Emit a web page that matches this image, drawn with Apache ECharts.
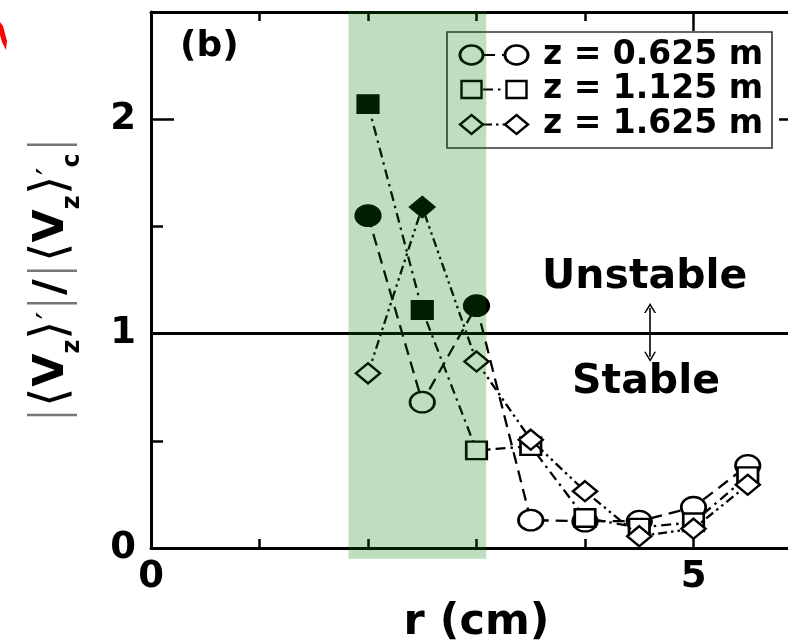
<!DOCTYPE html>
<html><head><meta charset="utf-8">
<script src="https://cdn.jsdelivr.net/npm/echarts@6/dist/echarts.min.js"></script>
<style>html,body{margin:0;padding:0;background:#fff}#c{width:788px;height:640px}</style>
</head><body><div id="c"></div>
<script>
// ---- data ----
const rValues = [2, 2.5, 3, 3.5, 4, 4.5, 5, 5.5];
const ratioZ0625 = [1.55, 0.68, 1.13, 0.13, 0.125, 0.125, 0.19, 0.385];
const ratioZ1125 = [2.07, 1.11, 0.455, 0.475, 0.14, 0.095, 0.12, 0.335];
const ratioZ1625 = [0.815, 1.59, 0.87, 0.505, 0.265, 0.055, 0.09, 0.295];
const filledZ0625 = [true, false, true, false, false, false, false, false];
const filledZ1125 = [true, true, false, false, false, false, false, false];
const filledZ1625 = [false, true, false, false, false, false, false, false];
const seriesNames = ['z = 0.625 m', 'z = 1.125 m', 'z = 1.625 m'];
const xTickLabels = [0, 5];
const yTickLabels = [0, 1, 2];
const unstableBandR = [1.82, 3.09];
const unstableBandY = [-0.05, 2.505];
const thresholdValue = 1;
const arrowR = 4.6;
const arrowY = [1.119, 0.892];
const panelLabel = '(b)';
const unstableText = 'Unstable';
const stableText = 'Stable';
const xName = 'r (cm)';

// ---- styles ----
const FONT = 'DejaVu Sans';
const ELLIPSE = 'path://M0,10 A10,10 0 1,1 20,10 A10,10 0 1,1 0,10 Z';
const CHEVRON = 'path://M0,10 L6,0 L12,10 L10.4,10 L6,2.8 L1.6,10 Z';
const dashes = [[12, 7], [10, 5, 2.5, 5], [9, 4, 2.5, 4, 2.5, 4]];
const symbols = [ELLIPSE, 'rect', 'diamond'];
const symSizes = [[24.5, 20.5], [20.5, 17.5], [24, 20]];

function buildData(vals, filled) {
  return rValues.map((r, i) => filled[i]
    ? { value: [r, vals[i]], itemStyle: { color: '#000' } }
    : { value: [r, vals[i]] });
}

const tickFont = { fontFamily: FONT, fontWeight: 'bold', fontSize: 37, color: '#000' };

function xAx(pos, interval, len, showLine, labels) {
  return {
    type: 'value', position: pos, min: 0, max: 6, interval: interval,
    axisLine: { show: showLine, onZero: false, lineStyle: { color: '#000', width: 3 } },
    axisTick: { show: true, inside: true, length: len, lineStyle: { color: '#000', width: 2.5 } },
    axisLabel: labels ? Object.assign({ margin: 11, formatter: v => xTickLabels.includes(v) ? String(v) : '' }, tickFont) : { show: false },
    splitLine: { show: false }
  };
}
function yAx(pos, interval, len, showLine, labels) {
  return {
    type: 'value', position: pos, min: 0, max: 2.5, interval: interval,
    axisLine: { show: showLine, onZero: false, lineStyle: { color: '#000', width: 3 } },
    axisTick: { show: true, inside: true, length: len, lineStyle: { color: '#000', width: 2.5 } },
    axisLabel: labels ? Object.assign({ margin: 15, formatter: v => yTickLabels.includes(v) ? String(v) : '' }, tickFont) : { show: false },
    splitLine: { show: false }
  };
}

const xAxes = [xAx('bottom', 1, 9, true, true), xAx('bottom', 5, 19, false, false), xAx('top', 1, 9, true, false), xAx('top', 5, 19, false, false)];
xAxes[0].name = xName;
xAxes[0].nameLocation = 'middle';
xAxes[0].nameGap = 48;
xAxes[0].nameTextStyle = { fontFamily: FONT, fontWeight: 'bold', fontSize: 43, color: '#000' };

const yAxes = [yAx('left', 0.5, 12, true, false), yAx('left', 1, 23, false, true), yAx('right', 0.5, 12, true, false), yAx('right', 1, 23, false, false)];
yAxes[1].name = '{bar||}{br|\u27E8}{v|V}{sub|z}{br|\u27E9}{pr|\u2032}{bar||}{v|/}{bar||}{br|\u27E8}{v|V}{sub|z}{br|\u27E9}{pr|\u2032}{sub|c}{bar||}';
yAxes[1].nameLocation = 'middle';
yAxes[1].nameGap = 66;
yAxes[1].nameTextStyle = {
  rich: {
    bar: { fontFamily: FONT, fontSize: 50, fontWeight: 200, color: '#777' },
    br: { fontFamily: FONT, fontSize: 50, fontWeight: 200, color: '#000' },
    v: { fontFamily: FONT, fontSize: 43, fontWeight: 'bold', color: '#000' },
    sub: { fontFamily: FONT, fontSize: 24, fontWeight: 'bold', color: '#000', verticalAlign: 'bottom', padding: [42, 0, 0, 0] },
    pr: { fontFamily: FONT, fontSize: 34, fontWeight: 'normal', color: '#000' }
  }
};

const valueSets = [ratioZ0625, ratioZ1125, ratioZ1625];
const filledSets = [filledZ0625, filledZ1125, filledZ1625];

const series = valueSets.map((vals, k) => ({
  type: 'line', name: seriesNames[k], xAxisIndex: 0, yAxisIndex: 0,
  data: buildData(vals, filledSets[k]),
  symbol: symbols[k], symbolSize: symSizes[k],
  itemStyle: { color: '#fff', borderColor: '#000', borderWidth: 2.5 },
  lineStyle: { color: '#000', width: 2.3, type: dashes[k] },
  emphasis: { disabled: true }, silent: true, z: 2 + k * 0.1
}));

series[0].markLine = {
  silent: true, symbol: 'none', animation: false,
  label: { show: false },
  lineStyle: { color: '#000', width: 2.8, type: 'solid' },
  data: [{ yAxis: thresholdValue }]
};
series[1].markLine = {
  silent: true, animation: false,
  symbol: [CHEVRON, CHEVRON], symbolSize: [12, 10],
  label: { show: false },
  lineStyle: { color: '#000', width: 1.6, type: 'solid' },
  data: [[{ coord: [arrowR, arrowY[0]] }, { coord: [arrowR, arrowY[1]] }]]
};

series.push({
  type: 'custom', name: 'band', xAxisIndex: 0, yAxisIndex: 0, z: 10, silent: true, clip: false,
  data: [[unstableBandR[0], unstableBandR[1], unstableBandY[0], unstableBandY[1]]],
  encode: { x: [0, 1], y: [2, 3] },
  renderItem: function (params, api) {
    const p0 = api.coord([api.value(0), api.value(3)]);
    const p1 = api.coord([api.value(1), api.value(2)]);
    return { type: 'rect', shape: { x: p0[0], y: p0[1], width: p1[0] - p0[0], height: p1[1] - p0[1] },
      style: { fill: 'rgba(0,125,0,0.25)' } };
  }
});

// ---- legend & annotations ----
const lgStyle = { fill: '#fff', stroke: '#000', lineWidth: 2.4 };
function lgMarker(kind, cx, cy) {
  if (kind === 0) return { type: 'circle', x: cx, y: cy, scaleX: 1.22, shape: { cx: 0, cy: 0, r: 9.5 }, style: lgStyle, z: 3 };
  if (kind === 1) return { type: 'rect', shape: { x: cx - 10, y: cy - 8.5, width: 20, height: 17 }, style: lgStyle, z: 3 };
  return { type: 'polygon', shape: { points: [[cx, cy - 9.5], [cx + 11.5, cy], [cx, cy + 9.5], [cx - 11.5, cy]] }, style: lgStyle, z: 3 };
}
const lgRowsY = [55, 89.5, 124.5];
const graphics = [
  { type: 'polygon', shape: { points: [[0, 22], [3, 26], [7, 41], [6, 50], [2, 42], [0, 35]] }, style: { fill: '#ff0000' }, z: 3 },
  { type: 'text', x: 180, y: 47, z: 3, style: { text: panelLabel, font: 'bold 36px "DejaVu Sans"', fill: '#000', align: 'left', verticalAlign: 'middle', textAlign: 'left', textVerticalAlign: 'middle' } },
  { type: 'text', x: 542, y: 277, z: 3, style: { text: unstableText, font: 'bold 41px "DejaVu Sans"', fill: '#000', align: 'left', verticalAlign: 'middle', textAlign: 'left', textVerticalAlign: 'middle' } },
  { type: 'text', x: 572, y: 382, z: 3, style: { text: stableText, font: 'bold 41px "DejaVu Sans"', fill: '#000', align: 'left', verticalAlign: 'middle', textAlign: 'left', textVerticalAlign: 'middle' } },
  { type: 'rect', shape: { x: 447, y: 32, width: 325, height: 116 }, style: { fill: '#fff', stroke: '#333', lineWidth: 1.6 }, z: 2.5 }
];
lgRowsY.forEach((cy, k) => {
  graphics.push({ type: 'line', shape: { x1: 483, y1: cy, x2: 505, y2: cy }, style: { stroke: '#000', lineWidth: 2, lineDash: dashes[k] }, z: 3 });
  graphics.push(lgMarker(k, 471.5, cy));
  graphics.push(lgMarker(k, 516.5, cy));
  graphics.push({ type: 'text', x: 543, y: cy, z: 3, style: { text: seriesNames[k], font: 'bold 33px "DejaVu Sans"', fill: '#000', align: 'left', verticalAlign: 'middle', textAlign: 'left', textVerticalAlign: 'middle' } });
});

const chart = echarts.init(document.getElementById('c'), null, { renderer: 'canvas' });
chart.setOption({
  animation: false,
  backgroundColor: '#fff',
  grid: { left: 151, top: 12, width: 651, height: 536, containLabel: false, outerBoundsMode: 'none' },
  xAxis: xAxes,
  yAxis: yAxes,
  series: series,
  graphic: graphics
});
</script></body></html>
